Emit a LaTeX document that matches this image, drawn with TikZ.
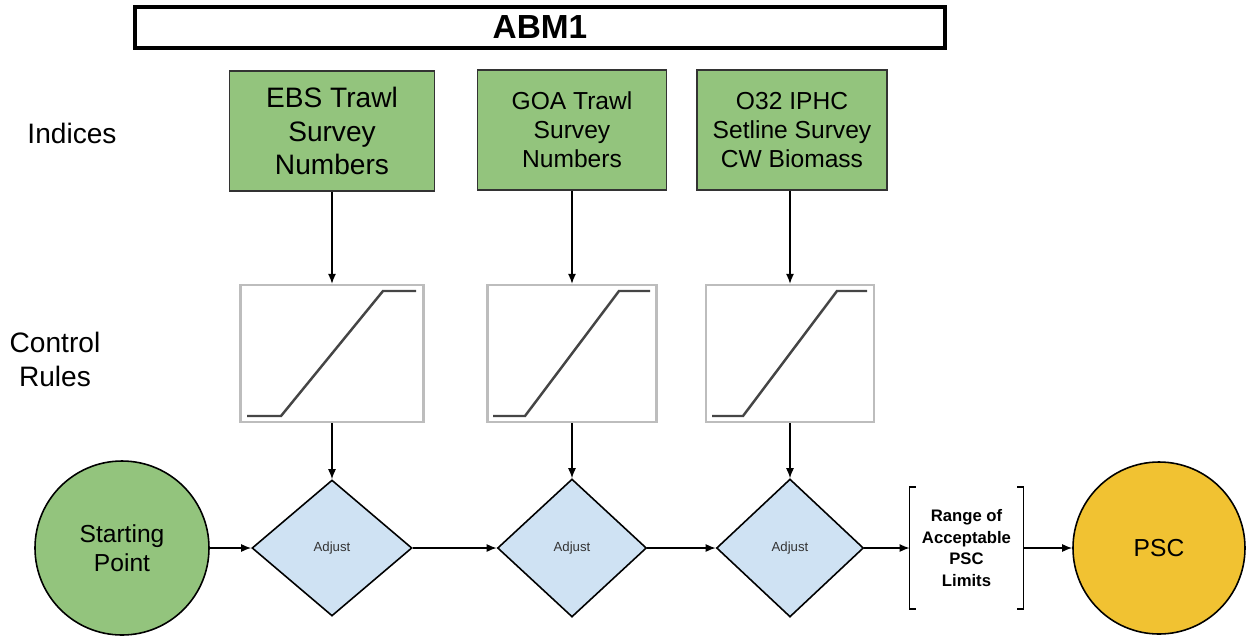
\documentclass[tikz,border=0pt]{standalone}
\usepackage{fontspec}
\setmainfont{Liberation Sans}
\usetikzlibrary{shapes.geometric,arrows.meta}
\definecolor{boxgreen}{HTML}{93C47D}
\definecolor{dblue}{HTML}{CFE2F3}
\definecolor{pscyellow}{HTML}{F1C232}
\definecolor{crgray}{HTML}{BDBDBD}
\definecolor{curvegray}{HTML}{454545}
\definecolor{adjgray}{HTML}{333333}
\begin{document}
\begin{tikzpicture}[x=0.02cm,y=-0.02cm,
  titlebox/.style={draw=black,line width=2pt,fill=white,minimum width={810*0.02cm},minimum height={41*0.02cm},inner sep=0pt,font=\bfseries\fontsize{19}{22}\selectfont},
  rowlabel/.style={align=center,font=\fontsize{16}{19.3}\selectfont},
  indbox/.style={draw=black!80,line width=0.8pt,fill=boxgreen,align=center,inner sep=0pt,minimum height={120*0.02cm}},
  crbox/.style={draw=crgray,line width=1.3pt,fill=white,inner sep=0pt,minimum height={137*0.02cm}},
  rulecurve/.style={draw=curvegray,line width=1.4pt},
  adjbox/.style={diamond,draw=black,line width=0.9pt,fill=dblue,inner sep=0pt,text=adjgray,font=\fontsize{7.5}{9}\selectfont},
  roundnode/.style={circle,draw=black,line width=0.9pt,inner sep=0pt,align=center,font=\fontsize{14}{16.5}\selectfont},
  arr/.style={draw=black,line width=0.8pt,-{Latex[length=0.2cm,width=0.16cm]}},
  bracket/.style={draw=black,line width=0.9pt}
]
\useasboundingbox (0,0) rectangle (1249,637);

% title
\node[titlebox] (abm) at (540,27.5) {ABM1};

% row labels
\node[rowlabel] (lind) at (72,133) {Indices};
\node[rowlabel] (lcr) at (55,359) {Control\\Rules};

% index boxes
\node[indbox,minimum width={205*0.02cm},font=\fontsize{16}{19}\selectfont] (ebs) at (332,131) {EBS Trawl\\Survey\\Numbers};
\node[indbox,minimum width={189*0.02cm},font=\fontsize{14}{16.5}\selectfont] (goa) at (572,130) {GOA Trawl\\Survey\\Numbers};
\node[indbox,minimum width={190*0.02cm},font=\fontsize{14}{16.5}\selectfont] (o32) at (792,130) {O32 IPHC\\Setline Survey\\CW Biomass};

% control rule boxes
\node[crbox,minimum width={183*0.02cm}] (cr1) at (332,353.5) {};
\node[crbox,minimum width={169*0.02cm}] (cr2) at (572,353.5) {};
\node[crbox,minimum width={168*0.02cm}] (cr3) at (790,353.5) {};
\draw[rulecurve] (247,416) -- (281,416) -- (383,291) -- (416,291);
\draw[rulecurve] (493,416) -- (525,416) -- (619,291) -- (650,291);
\draw[rulecurve] (712,416) -- (743,416) -- (837,291) -- (867,291);

% diamonds
\node[adjbox,minimum width={160*0.02cm},minimum height={136*0.02cm}] (d1) at (332,548) {Adjust};
\node[adjbox,minimum width={149*0.02cm},minimum height={138*0.02cm}] (d2) at (572,548) {Adjust};
\node[adjbox,minimum width={147*0.02cm},minimum height={138*0.02cm}] (d3) at (790,548) {Adjust};

% circles
\node[roundnode,fill=boxgreen,minimum size={174*0.02cm}] (start) at (122,548) {Starting\\Point};
\node[roundnode,fill=pscyellow,minimum size={172*0.02cm}] (psc) at (1159,548) {PSC};

% range node with brackets
\node[align=center,inner sep=0pt,minimum width={113*0.02cm},minimum height={121*0.02cm},font=\bfseries\fontsize{9.5}{12.2}\selectfont] (rng) at (966.5,548) {Range of\\Acceptable\\PSC\\Limits};
\draw[bracket] ([xshift=6*0.02cm]rng.north west) -- (rng.north west) -- (rng.south west) -- ([xshift=6*0.02cm]rng.south west);
\draw[bracket] ([xshift=-6*0.02cm]rng.north east) -- (rng.north east) -- (rng.south east) -- ([xshift=-6*0.02cm]rng.south east);

% vertical connectors
\draw[arr] (ebs.south -| cr1.north) -- (cr1.north);
\draw[arr] (goa.south -| cr2.north) -- (cr2.north);
\draw[arr] (o32.south -| cr3.north) -- (cr3.north);
\draw[arr] (cr1.south) -- (d1.north);
\draw[arr] (cr2.south) -- (d2.north);
\draw[arr] (cr3.south) -- (d3.north);

% horizontal connectors
\draw[arr] (start.east) -- (d1.west);
\draw[arr] (d1.east) -- (d2.west);
\draw[arr] (d2.east) -- (d3.west);
\draw[arr] (d3.east) -- (rng.west);
\draw[arr] (rng.east) -- (psc.west);
\end{tikzpicture}
\end{document}
